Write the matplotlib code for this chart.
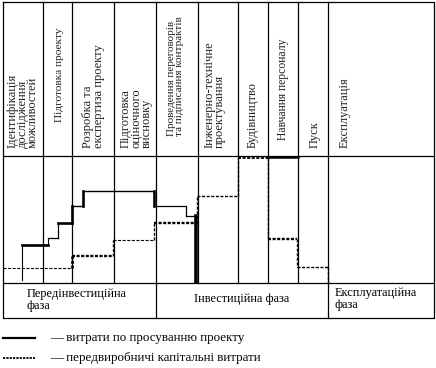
import matplotlib
matplotlib.use("Agg")
import matplotlib.pyplot as plt
from matplotlib.collections import LineCollection

plt.rcParams['font.family'] = ['Liberation Serif', 'DejaVu Serif']
plt.rcParams['lines.scale_dashes'] = False

# ---------------- data ----------------
stages = ["Ідентифікація\nдослідження\nможливостей",
          "Підготовка проекту",
          "Розробка та\nекспертиза проекту",
          "Підготовка\nоціночного\nвисновку",
          "Проведення переговорів\nта підписання контрактів",
          "Інженерно-технічне\nпроектування",
          "Будівництво",
          "Навчання персоналу",
          "Пуск",
          "Експлуатація"]
# stage boundaries on the time axis
stage_edges = [0, 40.6, 69.6, 111.3, 153.0, 195.0, 235.6, 265.6, 295.6, 325.6, 431.3]

phases = ["Передінвестиційна\nфаза", "Інвестиційна фаза", "Експлуатаційна\nфаза"]
phase_edges = [0, 153.0, 325.6, 431.3]

# project promotion costs (solid): change points and levels
promo_t = [19.6, 45.6, 55.6, 69.0, 80.0, 151.6, 183.0, 193.3]
promo_level = [38.0, 45.3, 60.3, 77.3, 92.3, 77.3, 67.0]
promo_start, promo_end = 3.0, 1.0
# personnel training promotion costs segment (solid, top)
promo2_t = [265.6, 295.6]
promo2_level = [126.0, 126.0]

# pre-production capital costs (dashed)
capex_t = [0, 69.0, 110.0, 151.6, 193.8, 235.0, 265.3, 294.3, 324.8]
capex_level = [15.3, 27.3, 43.0, 60.3, 87.0, 125.0, 44.3, 16.5]
capex_end = 0.0

legend_labels = ["— витрати по просуванню проекту",
                 "— передвиробничі капітальні витрати"]

# ---------------- helpers ----------------
def step_segments(ts, levels, start=None, end=None):
    segs = []
    if start is not None:
        segs.append([(ts[0], start), (ts[0], levels[0])])
    for i, lv in enumerate(levels):
        segs.append([(ts[i], lv), (ts[i + 1], lv)])
        nxt = levels[i + 1] if i + 1 < len(levels) else end
        if nxt is not None:
            segs.append([(ts[i + 1], lv), (ts[i + 1], nxt)])
    return segs

W, H = 436, 368
fig = plt.figure(figsize=(W / 100, H / 100), dpi=100)

# layout frame axes in pixel units
fa = fig.add_axes([0, 0, 1, 1])
fa.set_xlim(0, W)
fa.set_ylim(H, 0)
fa.axis('off')

X0, X1 = 2.7, 434.0
Y_TOP, Y_HEAD, Y_CH, Y_PH = 2.0, 156.0, 283.0, 318.0
lw_grid = 0.9

# chart axes (data)
ax = fig.add_axes([X0 / W, (H - Y_CH) / H, (X1 - X0) / W, (Y_CH - Y_HEAD) / H])
ax.set_xlim(0, X1 - X0)
ax.set_ylim(0, Y_CH - Y_HEAD)
ax.axis('off')
ax.patch.set_alpha(0)

sx = (X1 - X0) / (stage_edges[-1] - stage_edges[0])
def px(t):
    return X0 + t * sx

# outer frame & horizontals
fa.plot([X0, X1, X1, X0, X0], [Y_TOP, Y_TOP, Y_PH, Y_PH, Y_TOP], color='black', lw=lw_grid)
fa.plot([X0, X1], [Y_HEAD, Y_HEAD], color='black', lw=lw_grid)
fa.plot([X0, X1], [Y_CH, Y_CH], color='black', lw=lw_grid)
for e in stage_edges[1:-1]:
    fa.plot([px(e), px(e)], [Y_TOP, Y_CH], color='black', lw=lw_grid)
for e in phase_edges[1:-1]:
    fa.plot([px(e), px(e)], [Y_CH, Y_PH], color='black', lw=lw_grid)

# header labels (rotated)
label_x_off = [4, 12, 10, 6, 11, 6, 8.5, 8.5, 10, 10]
label_bottom = [148, 122, 148, 148, 136, 148, 148, 140, 148, 148]
label_size = [9.0, 8.2, 9.0, 9.0, 8.0, 9.0, 9.0, 8.4, 9.0, 9.0]
label_spacing = [0.8, 0.8, 0.8, 0.8, 0.88, 0.8, 0.8, 0.8, 0.8, 0.8]
for i, s in enumerate(stages):
    fa.text(px(stage_edges[i]) + label_x_off[i], label_bottom[i], s,
            rotation=90, ha='left', va='bottom', fontsize=label_size[i],
            linespacing=label_spacing[i], multialignment='left', color='#222222')

# phase labels
fa.text(px(phase_edges[0]) + 24, 300, phases[0], ha='left', va='center',
        fontsize=8.9, linespacing=0.95)
fa.text((px(phase_edges[1]) + px(phase_edges[2])) / 2, 299, phases[1],
        ha='center', va='center', fontsize=8.9)
fa.text(px(phase_edges[2]) + 6, 299, phases[2], ha='left', va='center',
        fontsize=8.9, linespacing=0.95)

# solid line: promotion costs
promo_segs = step_segments(promo_t, promo_level, promo_start, promo_end)
promo_w = [0.8, 1.9, 0.8, 0.9, 0.9, 1.9, 1.9, 1.0, 1.9, 1.0, 1.9, 0.9, 0.9, 0.9, 2.6]
ax.add_collection(LineCollection(promo_segs, colors='black', linewidths=promo_w,
                                 capstyle='projecting'))
ax.plot(promo2_t, promo2_level, color='black', lw=1.8)

# dashed line: capital costs
capex_segs = step_segments(capex_t, capex_level, None, capex_end)
capex_w = [0.8, 1.9, 1.7, 1.0, 0.8, 1.0, 1.7, 1.0, 1.0, 1.0, 1.3, 1.0, 1.7, 1.0, 1.0, 1.0]
ax.add_collection(LineCollection(capex_segs, colors='black', linewidths=capex_w,
                                 linestyles=[(0, (2.2, 1.1))]))

# legend
fa.plot([3, 35], [338, 338], color='black', lw=1.6)
fa.plot([3, 35], [358, 358], color='black', lw=1.3, dashes=(1.6, 0.8))
fa.text(50, 338, legend_labels[0], ha='left', va='center', fontsize=9.4)
fa.text(50, 358, legend_labels[1], ha='left', va='center', fontsize=9.4)

fig.savefig("out.png", dpi=100)
